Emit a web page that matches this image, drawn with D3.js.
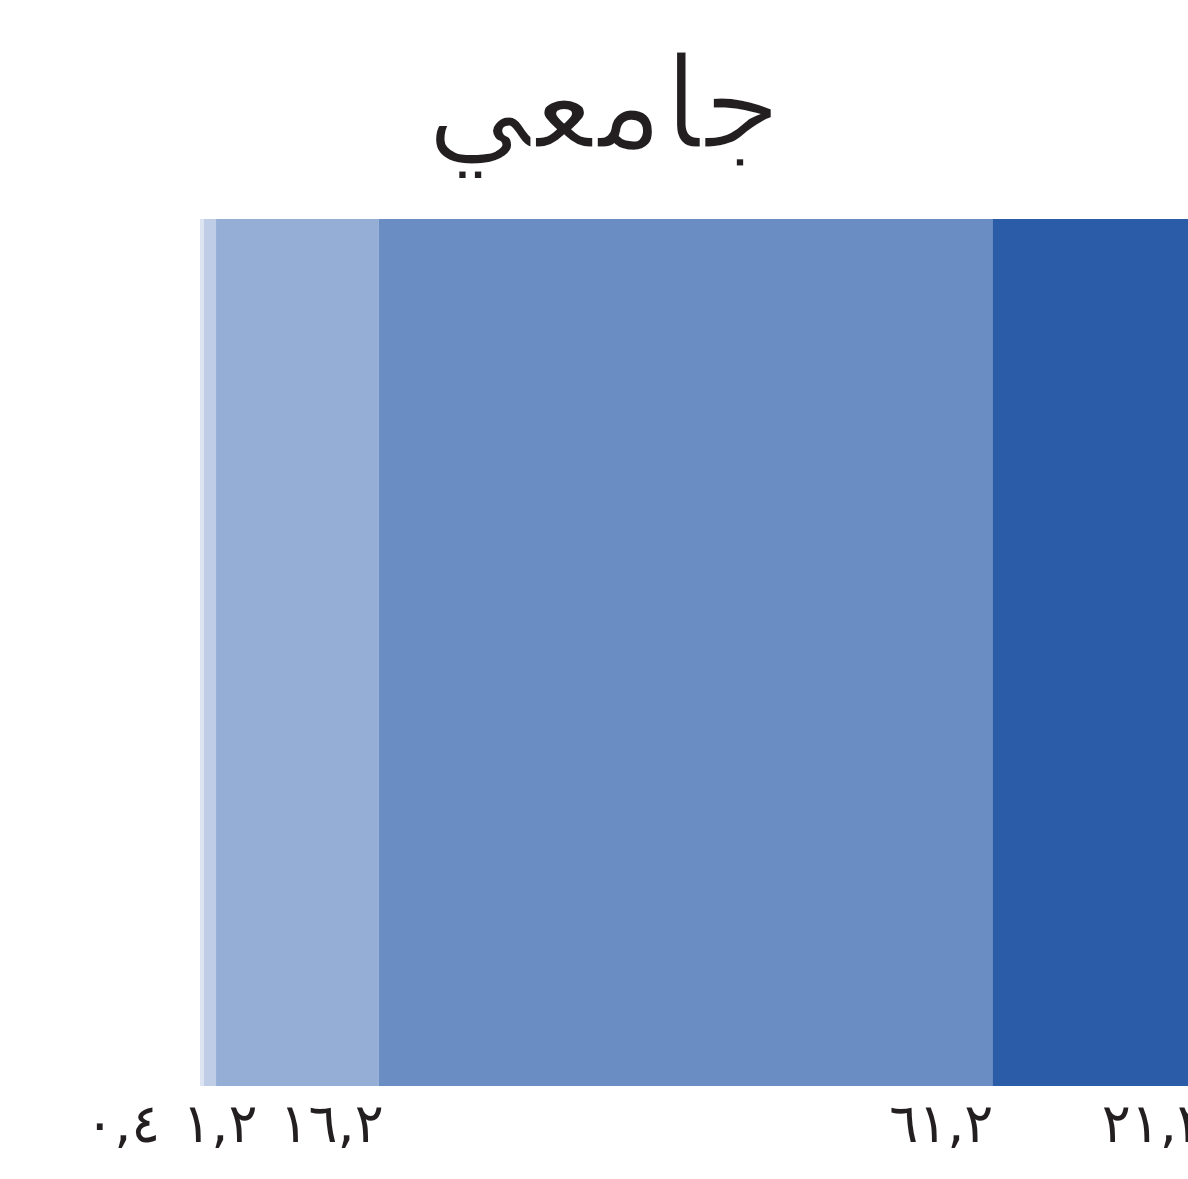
<!DOCTYPE html>
<html><head><meta charset="utf-8">
<script src="https://cdn.jsdelivr.net/npm/d3@7"></script>
<style>html,body{margin:0;padding:0;background:#fff;overflow:hidden}</style>
</head><body>
<script>
const title = "جامعي";
const values = [0.4, 1.2, 16.2, 61.2, 21.2];
const colors = ["#dde4f1", "#bfcde6", "#95aed6", "#6a8dc3", "#2b5ca8"];

const W = 1188, H = 1179;
const svg = d3.select("body").append("svg").attr("width", W).attr("height", H);

const total = d3.sum(values);
const x = d3.scaleLinear().domain([0, total]).range([200, 1205]);
const y0 = 219, y1 = 1086;

const stacked = [];
let acc = 0;
values.forEach((v, i) => { stacked.push({v, i, start: acc, end: acc + v}); acc += v; });

svg.append("g").selectAll("rect").data(stacked).join("rect")
  .attr("x", d => x(d.start))
  .attr("width", d => x(d.end) - x(d.start))
  .attr("y", y0).attr("height", y1 - y0)
  .attr("fill", d => colors[d.i]);

const arabicDigits = "٠١٢٣٤٥٦٧٨٩";
const fmt = v => v.toFixed(1).replace(".", ",").replace(/[0-9]/g, c => arabicDigits[+c]);

const labelFont = "'DejaVu Sans', sans-serif";
const lg = svg.append("g");
const labels = lg.selectAll("text").data(stacked).join("text")
  .attr("y", 1142)
  .attr("text-anchor", "end")
  .attr("font-family", labelFont)
  .attr("font-size", 54)
  .attr("letter-spacing", -3)
  .attr("fill", "#231f20")
  .text(d => fmt(d.v));

// label layout: anchored at segment ends, overlapping labels grouped and
// centred on their anchors (least-squares), keeping a fixed gap
const nodes = labels.nodes();
const widths = nodes.map(n => n.getComputedTextLength());
const gap = 22;
const anchors = stacked.map(d => x(d.end) + 1);
let clusters = [];
anchors.forEach((a, i) => {
  let c = {items: [i]};
  clusters.push(c);
  const solve = cl => {
    // offsets of each label end relative to cluster end
    let off = 0; const offs = [];
    for (let k = cl.items.length - 1; k >= 0; k--) {
      const idx = cl.items[k];
      offs[k] = off;
      off += widths[idx] + gap;
    }
    cl.offs = offs;
    cl.end = d3.mean(cl.items.map((idx, k) => anchors[idx] + offs[k]));
    cl.start = cl.end - (off - gap);
  };
  solve(c);
  while (clusters.length > 1) {
    const prev = clusters[clusters.length - 2], cur = clusters[clusters.length - 1];
    if (prev.end + gap > cur.start) {
      const merged = {items: prev.items.concat(cur.items)};
      solve(merged);
      clusters.splice(clusters.length - 2, 2, merged);
    } else break;
  }
});
const pos = [];
clusters.forEach(cl => cl.items.forEach((idx, k) => { pos[idx] = cl.end - cl.offs[k]; }));
labels.attr("x", (d, i) => pos[i]);

svg.append("text")
  .attr("x", 604).attr("y", 148)
  .attr("text-anchor", "middle")
  .attr("font-family", labelFont)
  .attr("font-size", 128)
  .attr("fill", "#231f20")
  .attr("stroke", "#ffffff")
  .attr("stroke-width", 3)
  .text(title);
</script>
</body></html>
